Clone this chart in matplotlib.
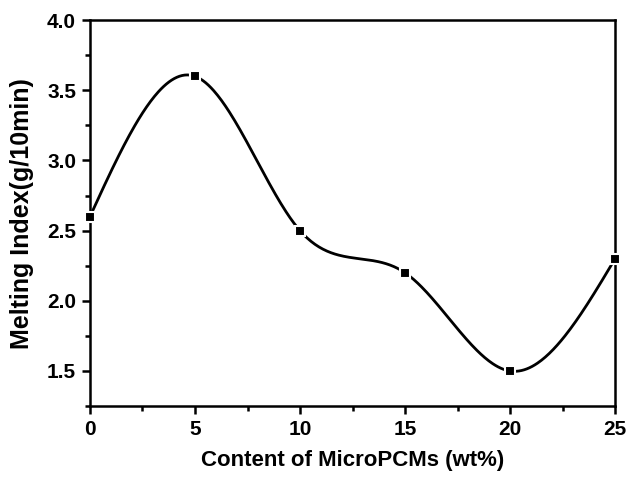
import numpy as np
import matplotlib
matplotlib.use("Agg")
import matplotlib.pyplot as plt
from matplotlib.ticker import MultipleLocator

# Melt index vs. MicroPCMs loading
content = np.array([0, 5, 10, 15, 20, 25], dtype=float)
melt_index = np.array([2.6, 3.6, 2.5, 2.2, 1.5, 2.3])


def natural_spline(x, y, xs):
    # plain natural cubic spline, no scipy needed
    n = len(x)
    h = np.diff(x)
    A = np.zeros((n, n))
    b = np.zeros(n)
    A[0, 0] = A[-1, -1] = 1.0
    for i in range(1, n - 1):
        A[i, i - 1] = h[i - 1]
        A[i, i] = 2 * (h[i - 1] + h[i])
        A[i, i + 1] = h[i]
        b[i] = 3 * ((y[i + 1] - y[i]) / h[i] - (y[i] - y[i - 1]) / h[i - 1])
    c = np.linalg.solve(A, b)
    out = np.empty_like(xs)
    for k, xv in enumerate(xs):
        i = min(np.searchsorted(x, xv, side="right") - 1, n - 2)
        i = max(i, 0)
        dx = xv - x[i]
        bi = (y[i + 1] - y[i]) / h[i] - h[i] * (2 * c[i] + c[i + 1]) / 3
        di = (c[i + 1] - c[i]) / (3 * h[i])
        out[k] = y[i] + bi * dx + c[i] * dx ** 2 + di * dx ** 3
    return out


plt.rcParams['font.family'] = ['Liberation Sans', 'DejaVu Sans']
plt.rcParams['font.weight'] = 'bold'

fig = plt.figure(figsize=(6.27, 4.8), dpi=100)
ax = fig.add_axes([0.1435, 0.154, 0.8375, 0.804])

xs = np.linspace(content[0], content[-1], 400)
ax.plot(xs, natural_spline(content, melt_index, xs), color='black', lw=2.0, zorder=2)
ax.plot(content, melt_index, 's', color='black', ms=6.5, mec='white', mew=1.5,
        zorder=3, clip_on=False)

ax.set_xlim(0, 25)
ax.set_ylim(1.25, 4.0)
ax.xaxis.set_major_locator(MultipleLocator(5))
ax.xaxis.set_minor_locator(MultipleLocator(2.5))
ax.yaxis.set_major_locator(MultipleLocator(0.5))
ax.yaxis.set_minor_locator(MultipleLocator(0.25))
ax.set_yticks([1.5, 2.0, 2.5, 3.0, 3.5, 4.0])

for s in ax.spines.values():
    s.set_linewidth(1.8)
ax.tick_params(which='major', direction='out', length=6, width=1.8, labelsize=15, pad=4)
ax.tick_params(which='minor', direction='out', length=3.5, width=1.8)
for lab in ax.get_xticklabels() + ax.get_yticklabels():
    lab.set_fontweight('bold')

ax.set_xlabel('Content of MicroPCMs (wt%)', fontsize=16, fontweight='bold', labelpad=8)
ax.set_ylabel('Melting Index(g/10min)', fontsize=18, fontweight='bold', labelpad=9)

fig.savefig('out.png', dpi=100)
